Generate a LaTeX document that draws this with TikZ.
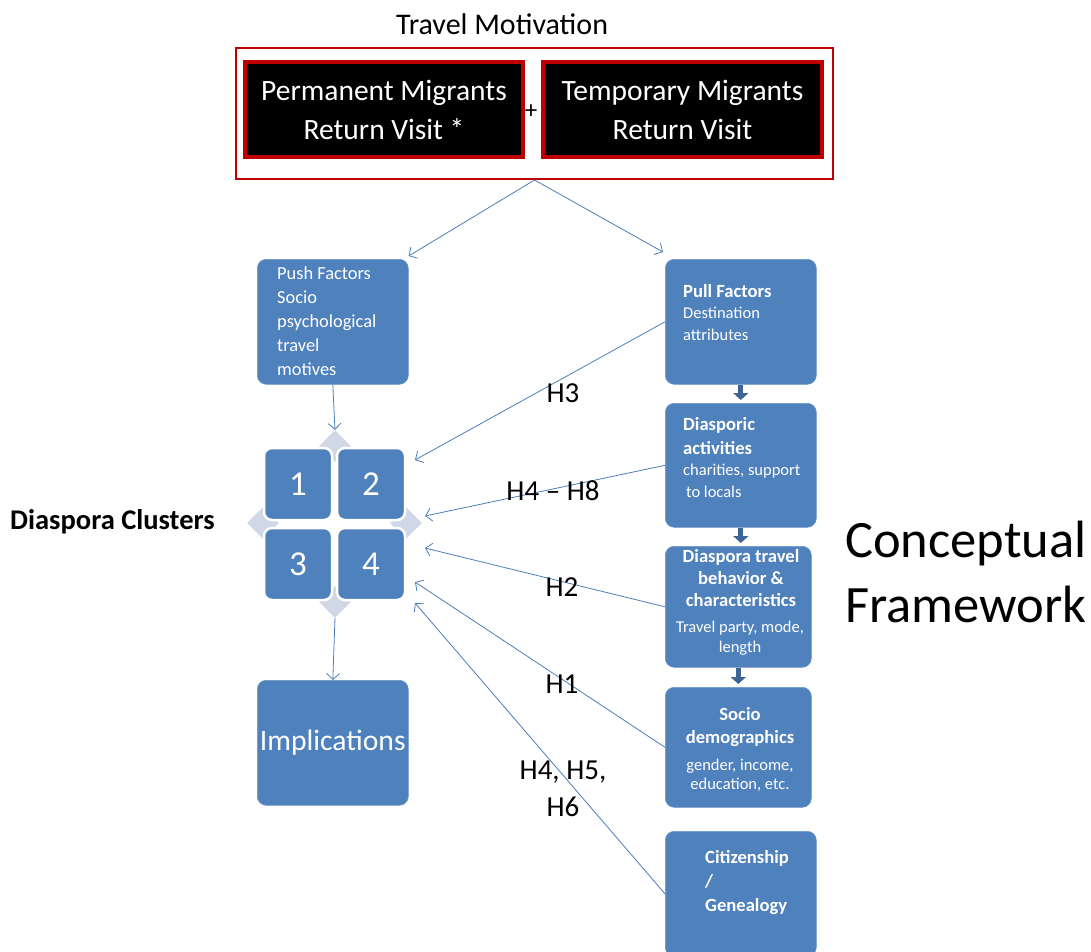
\documentclass[tikz,border=0pt]{standalone}
\usepackage{fontspec}
\setmainfont{Carlito}
\usetikzlibrary{arrows.meta,calc,shapes.geometric,shadows}
\definecolor{boxblue}{HTML}{4F81BD}
\definecolor{boxedge}{HTML}{6A95C8}
\definecolor{darkred}{HTML}{C00000}
\definecolor{linkblue}{HTML}{4A7EBB}
\definecolor{lightcross}{HTML}{D0D8E8}
\definecolor{arrowdark}{HTML}{3C6596}
\begin{document}
\begin{tikzpicture}[x=1pt,y=-1pt,
  bluebox/.style={draw=boxedge, fill=boxblue, rounded corners=9pt, line width=0.6pt, anchor=north west, inner sep=0pt},
  blackbox/.style={fill=black, draw=darkred, line width=4pt, text=white, align=center,
    font=\fontsize{29.5}{39}\selectfont, anchor=north west, inner sep=0pt,
    drop shadow={opacity=0.35, shadow xshift=2pt, shadow yshift=-2pt}},
  cell/.style={draw=white, line width=2.5pt, fill=boxblue, rounded corners=8pt, minimum width=68pt, minimum height=72pt,
    text=white, font=\fontsize{35}{40}\selectfont, inner sep=0pt},
  tip/.style={diamond, fill=lightcross, minimum width=32pt, minimum height=32pt, inner sep=0pt},
  link/.style={draw=linkblue, line width=0.8pt, -{Straight Barb[length=6pt,width=13pt]}},
  blockarr/.style={draw=arrowdark, line width=5pt, -{Triangle[length=7pt,width=15pt]}, shorten >=3pt},
  wbold/.style={text=white, inner sep=0pt, font=\fontsize{18.6}{23}\selectfont\bfseries},
  wnorm/.style={text=white, inner sep=0pt, font=\fontsize{16.5}{22}\selectfont},
  hlabel/.style={text=black, inner sep=0pt, font=\fontsize{29}{37}\selectfont, align=center}
]
\useasboundingbox (0,0) rectangle (1091,951);

% top
\node[font=\fontsize{30}{34}\selectfont] (title) at (502,24) {Travel Motivation};
\node[draw=darkred, line width=2pt, minimum width=597pt, minimum height=131pt, anchor=north west, inner sep=0pt] (outer) at (235,47) {};
\node[blackbox, minimum width=278pt, minimum height=95pt] (perm) at (243,60) {Permanent Migrants\\Return Visit *};
\node[blackbox, minimum width=279pt, minimum height=95pt] (temp) at (541,60) {Temporary Migrants\\Return Visit};
\node[font=\fontsize{25}{28}\selectfont] (plus) at (531,112) {+};

% push box
\node[bluebox, minimum width=151pt, minimum height=125pt] (push) at (257,259) {};
\begin{scope}
\clip (257,259) rectangle (408,384);
\node[wnorm, font=\fontsize{18.4}{24}\selectfont, align=left, anchor=north west] (pusht) at (277,267)
  {Push Factors\\Socio\\psychological\\travel\\motives};
\end{scope}

% clusters
\node[tip] (dtop) at (335,446) {};
\node[tip] (dleft) at (263,523) {};
\node[tip] (dright) at (406,523) {};
\node[tip] (dbot) at (335,602) {};
\node[cell] (c1) at (298,484) {1};
\node[cell] (c2) at (371,484) {2};
\node[cell] (c3) at (298,564) {3};
\node[cell] (c4) at (371,564) {4};
\node[font=\fontsize{28.5}{32}\selectfont\bfseries, anchor=west, inner sep=0pt] (clusters) at (10,522) {Diaspora Clusters};

% implications
\node[bluebox, minimum width=151pt, minimum height=125pt, text=white, font=\fontsize{29.6}{34}\selectfont] (impl) at (257,680) {Implications};

% right column
\node[bluebox, minimum width=151pt, minimum height=125pt] (pull) at (665,259) {};
\node[bluebox, minimum width=151pt, minimum height=124pt] (dias) at (665,403) {};
\node[bluebox, minimum width=146pt, minimum height=121pt] (trav) at (665,546) {};
\node[bluebox, minimum width=146pt, minimum height=120pt] (socio) at (665,687) {};
\node[bluebox, minimum width=151pt, minimum height=125pt] (citiz) at (665,831) {};

\node[wbold, anchor=north west] (pullt1) at (683,284) {Pull Factors};
\node[wnorm, align=left, anchor=north west] (pullt2) at (683,307) {Destination\\attributes};

\node[wbold, align=left, anchor=north west, font=\fontsize{18.6}{24}\selectfont\bfseries] (diast1) at (683,417) {Diasporic\\activities};
\node[wnorm, align=left, anchor=north west] (diast2) at (683,464) {charities, support\\\hspace*{3pt}to locals};

\node[wbold, align=center, anchor=north, font=\fontsize{18.6}{22}\selectfont\bfseries] (travt1) at (741,549) {Diaspora travel\\behavior \&\\characteristics};
\node[wnorm, align=center, anchor=north, font=\fontsize{16.5}{20}\selectfont] (travt2) at (740,621) {Travel party, mode,\\length};

\node[wbold, align=center, anchor=north, font=\fontsize{18.6}{23}\selectfont\bfseries] (sociot1) at (740,707) {Socio\\demographics};
\node[wnorm, align=center, anchor=north, font=\fontsize{16.5}{19}\selectfont] (sociot2) at (740,759) {gender, income,\\education, etc.};

\node[wbold, align=left, anchor=north west, font=\fontsize{18.6}{24}\selectfont\bfseries] (citizt) at (705,850) {Citizenship\\/\\Genealogy};

\node[font=\fontsize{52.5}{65}\selectfont, align=left, anchor=west, inner sep=0pt] (concept) at (845,572) {Conceptual\\Framework};

% connectors
\draw[link] (outer.south) -- ([yshift=3pt]push.north east);
\draw[link] (outer.south) -- ([xshift=-2pt,yshift=7pt]pull.north west);
\draw[link] (push.south) -- (dtop.north);
\draw[link] (dbot.south) -- (impl.north);

\draw[blockarr] (pull.south) -- (pull.south |- dias.north);
\draw[blockarr] (dias.south) -- (dias.south |- trav.north);
\draw[blockarr] (trav.south) -- (trav.south |- socio.north);

\coordinate (t3) at (415,460);
\coordinate (t48) at (425,516);
\coordinate (t2) at (425,548);
\coordinate (t1) at (415,582);
\coordinate (t456) at (415,603);
\draw[link] (pull.west) -- (t3);
\draw[link] (dias.west) -- (t48);
\draw[link] (trav.west) -- (t2);
\draw[link] (socio.west) -- (t1);
\draw[link] (citiz.west) -- (t456);

\node[hlabel] (h3) at (563,393) {H3};
\node[hlabel] (h48) at (553,491) {H4 -- H8};
\node[hlabel] (h2) at (562,587) {H2};
\node[hlabel] (h1) at (562,684) {H1};
\node[hlabel] (h456) at (563,789) {H4, H5,\\H6};
\end{tikzpicture}
\end{document}
